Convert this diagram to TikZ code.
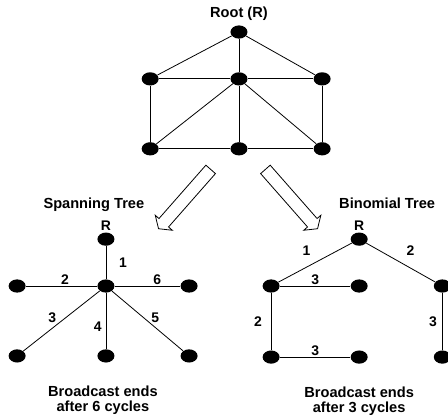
\documentclass[tikz,border=0pt]{standalone}
\usepackage{fontspec}
\setmainfont{Liberation Sans}
\usetikzlibrary{arrows.meta,positioning,shapes.geometric,shapes.arrows}

\begin{document}
\begin{tikzpicture}[
			dot/.style={ellipse, fill=black, minimum width=4.5mm, minimum height=3.5mm, inner sep=0pt, on grid},
			link/.style={line width=0.6pt},
			caption/.style={font=\bfseries\fontsize{11}{11.5}\selectfont, align=center, inner sep=1pt},
			num/.style={font=\bfseries\fontsize{10.5}{11.25}\selectfont, inner sep=1pt},
			hollow/.style={single arrow, draw, line width=0.6pt, fill=white, inner xsep=0pt, inner ysep=4.5pt,
				minimum height=20.9mm, single arrow head extend=3.75pt, single arrow tip angle=110, sloped, allow upside down},
		]
			\useasboundingbox (-63.23mm,-101.86mm) rectangle (55.30mm,8.47mm);

			\node[dot] (root) {};
			\node[caption, above=0.8mm of root] (rootname) {Root (R)};
			\node[dot, below=12.4mm of root] (mid) {};
			\node[dot, left=23.5mm of mid] (midleft) {};
			\node[dot, right=22mm of mid] (midright) {};
			\node[dot, below=18.5mm of mid] (low) {};
			\node[dot, below=18.5mm of midleft] (lowleft) {};
			\node[dot, below=18.5mm of midright] (lowright) {};

			\draw[link] (root) -- (midleft);
			\draw[link] (root) -- (mid);
			\draw[link] (root) -- (midright);
			\draw[link] (midleft) -- (mid);
			\draw[link] (mid) -- (midright);
			\draw[link] (midleft) -- (lowleft);
			\draw[link] (mid) -- (low);
			\draw[link] (midright) -- (lowright);
			\draw[link] (mid) -- (lowleft);
			\draw[link] (mid) -- (lowright);
			\draw[link] (lowleft) -- (low);
			\draw[link] (low) -- (lowright);

			\node[dot, below left=54.8mm and 35.2mm of root, label={[num]above:R}] (sroot) {};
			\node[caption, above=5mm of sroot, xshift=-3.2mm] (sname) {Spanning Tree};
			\node[dot, below=12.4mm of sroot] (shub) {};
			\node[dot, left=23.5mm of shub] (sleft) {};
			\node[dot, right=22mm of shub] (sright) {};
			\node[dot, below=18.5mm of shub] (slow) {};
			\node[dot, below=18.5mm of sleft] (slowleft) {};
			\node[dot, below=18.5mm of sright] (slowright) {};
			\node[caption, below=5.6mm of slow, xshift=-0.8mm] (sdone) {Broadcast ends\\after 6 cycles};

			\draw[link] (sroot) -- node[num, right=3mm] (s1) {1} (shub);
			\draw[link] (shub) -- node[num, pos=0.45, above] (s2) {2} (sleft);
			\draw[link] (shub) -- node[num, pos=0.45, left=2mm] (s3) {3} (slowleft);
			\draw[link] (shub) -- node[num, pos=0.61, left=0.7mm] (s4) {4} (slow);
			\draw[link] (shub) -- node[num, pos=0.45, right=1.5mm] (s5) {5} (slowright);
			\draw[link] (shub) -- node[num, pos=0.65, above] (s6) {6} (sright);

			\node[dot, below right=54.8mm and 31.8mm of root, label={[num]above:R}] (broot) {};
			\node[caption, above=5.7mm of broot, xshift=7.4mm] (bname) {Binomial Tree};
			\node[dot, below=12.4mm of broot] (bmid) {};
			\node[dot, left=23.3mm of bmid] (bleft) {};
			\node[dot, right=22mm of bmid] (bright) {};
			\node[dot, below=18.8mm of bmid] (blowmid) {};
			\node[dot, below=18.8mm of bleft] (blowleft) {};
			\node[dot, below=18.8mm of bright] (blowright) {};
			\node[caption, below=5.6mm of blowmid] (bdone) {Broadcast ends\\after 3 cycles};

			\draw[link] (broot) -- node[num, above left=1.5mm and 0.8mm] (b1) {1} (bleft);
			\draw[link] (broot) -- node[num, above right=1.5mm and 1.1mm] (b2) {2} (bright);
			\draw[link] (bleft) -- node[num, above] (b3) {3} (bmid);
			\draw[link] (bleft) -- node[num, left=2mm] (b4) {2} (blowleft);
			\draw[link] (blowleft) -- node[num, above] (b5) {3} (blowmid);
			\draw[link] (bright) -- node[num, left=1mm] (b6) {3} (blowright);

			\coordinate[on grid, below left=5mm and 7.1mm of low] (ltail);
			\coordinate[on grid, above right=3.2mm and 14.3mm of sroot] (lhead);
			\coordinate[on grid, below right=5mm and 6.6mm of low] (rtail);
			\coordinate[on grid, above left=3.2mm and 11.4mm of broot] (rhead);
			\path (ltail) -- (lhead) node[midway, hollow] (larrow) {};
			\path (rtail) -- (rhead) node[midway, hollow] (rarrow) {};
		\end{tikzpicture}
\end{document}
